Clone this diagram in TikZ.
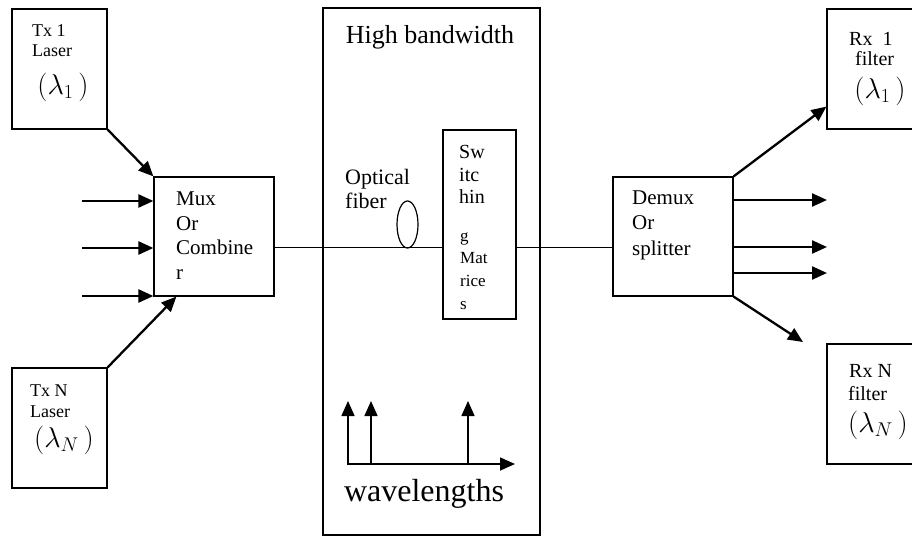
\documentclass[tikz,border=0pt]{standalone}
\usepackage{fontspec}
\setmainfont{Liberation Serif}
\usetikzlibrary{arrows.meta,shapes.geometric}

\newcommand{\fs}[1]{\fontsize{#1}{#1}\selectfont}
\newcommand{\lam}[1]{\scalebox{1.15}{$(\lambda_{#1}\,)$}}

\tikzset{
  blk/.style={draw, line width=1.2pt, inner sep=0pt},
  arr/.style={line width=2.3pt, -{Triangle[length=15pt,width=13pt]}},
  lbl/.style={anchor=base west, inner sep=0pt},
}

\begin{document}
\begin{tikzpicture}[x=1pt,y=-1pt]
  \useasboundingbox (0,0) rectangle (912,537);
  \node[blk, minimum width=95pt, minimum height=120pt] (tx1) at (59.5,69) {};
  \node[blk, minimum width=95pt, minimum height=120pt] (txn) at (59.5,428) {};
  \node[blk, minimum width=120pt, minimum height=119pt] (mux) at (214,236.5) {};
  \node[blk, minimum width=217pt, minimum height=527pt] (core) at (431.5,271.5) {};
  \node[blk, minimum width=73pt, minimum height=189pt] (swm) at (479.5,224.5) {};
  \node[blk, ellipse, minimum width=21pt, minimum height=47pt] (fib) at (407.5,224.5) {};
  \node[blk, minimum width=120pt, minimum height=119pt] (dmx) at (673,236.5) {};
  \node[blk, minimum width=100pt, minimum height=120pt] (rx1) at (877,69) {};
  \node[blk, minimum width=100pt, minimum height=120pt] (rxn) at (877,404) {};

  \coordinate (lnk) at (0,247);
  \draw[line width=.9pt] (lnk -| mux.east) -- (lnk -| swm.west);
  \draw[line width=.9pt] (lnk -| swm.east) -- (lnk -| dmx.west);

  \foreach \y [count=\i] in {201,248,296} {
    \coordinate (in\i) at (82,\y);
    \draw[arr] (in\i) -- (in\i -| mux.west);
  }
  \draw[arr] (tx1.south east) -- (mux.north west);
  \draw[arr] (txn.north east) -- ([xshift=23pt]mux.south west);

  \foreach \y [count=\i] in {200,247,273} {
    \coordinate (out\i) at (827,\y);
    \draw[arr] (out\i -| dmx.east) -- (out\i);
  }
  \draw[arr] (dmx.north east) -- ([yshift=23pt]rx1.south west);
  \coordinate (rxe) at (803,342);
  \draw[arr] (dmx.south east) -- (rxe);

  \coordinate (org) at (347,464);
  \coordinate (axe) at (515,464);
  \draw[arr, line width=1.6pt] (org) -- (axe);
  \foreach \x in {348,371,468}
    \draw[arr, line width=1.6pt] (\x,464) -- (\x,401);

  \node[lbl, font=\fs{18}] (tx1a) at (32,37) {Tx 1};
  \node[lbl, font=\fs{18}] (tx1b) at (32,57) {Laser};
  \node[font=\fs{26}] (tx1c) at (63,87) {\lam{1}};
  \node[lbl, font=\fs{18}] (txna) at (30,396) {Tx N};
  \node[lbl, font=\fs{18}] (txnb) at (30,417) {Laser};
  \node[font=\fs{26}] (txnc) at (64,440) {\lam{N}};

  \foreach \w [count=\i from 0] in {Mux,Or,Combine,r}
    \node[lbl, font=\fs{21}] (mux\i) at (176,206+24.4*\i) {\w};
  \node[font=\fs{26}, anchor=base] (hbw) at (430,44) {High bandwidth};
  \foreach \w [count=\i from 0] in {Optical,fiber}
    \node[lbl, font=\fs{22}] (opt\i) at (345,185+24*\i) {\w};
  \foreach \w [count=\i from 0] in {Sw,itc,hin}
    \node[lbl, font=\fs{20}] (swa\i) at (459,159+22.5*\i) {\w};
  \foreach \w [count=\i from 0] in {g,Mat,rice,s}
    \node[lbl, font=\fs{17}] (swb\i) at (460,241+22.7*\i) {\w};
  \node[font=\fs{32}, anchor=base] (wvl) at (424,501) {wavelengths};

  \foreach \w [count=\i from 0] in {Demux,Or,splitter}
    \node[lbl, font=\fs{21}] (dmx\i) at (632,205+25*\i) {\w};
  \node[lbl, font=\fs{20}] (rx1a) at (849,46) {Rx\ \ 1};
  \node[lbl, font=\fs{20}] (rx1b) at (855,66) {filter};
  \node[font=\fs{26}] (rx1c) at (880,91) {\lam{1}};
  \node[lbl, font=\fs{20}] (rxna) at (849,377) {Rx N};
  \node[lbl, font=\fs{20}] (rxnb) at (848,400) {filter};
  \node[font=\fs{24}] (rxnc) at (878,425) {\lam{N}};
\end{tikzpicture}
\end{document}
